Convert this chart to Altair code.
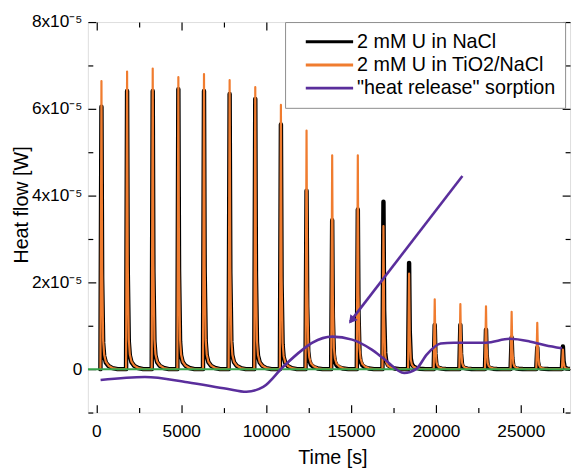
import altair as alt
import pandas as pd

# ---- data (heat flow in units of 1e-5 W) ----
peak_times = [300, 1810, 3320, 4830, 6340, 7850, 9360, 10870, 12380, 13890,
              15400, 16910, 18420, 19930, 21440, 22950, 24460, 25970, 27480]
nacl_peaks = [6.05, 6.41, 6.41, 6.45, 6.41, 6.34, 6.23, 5.64, 4.11, 3.43,
              3.68, 3.86, 2.45, 1.02, 1.02, 0.91, 0.73, 0.50, 0.52]
tio2_peaks = [6.64, 6.86, 6.93, 6.73, 6.80, 6.66, 6.50, 6.09, 5.50, 4.93,
              4.93, 3.30, 2.20, 1.61, 1.50, 1.45, 1.32, 1.07, 0.45]
# shape of a single injection spike: time offset [s] and fraction of its height
spike_dt = [-60, 0, 40, 100, 160, 260, 420, 650, 950]
spike_frac = [0.0, 1.0, 0.35, 0.10, 0.05, 0.025, 0.012, 0.004, 0.0]

sorption_t = [250, 2860, 5360, 7680, 8840, 9830, 10990, 12150, 12730, 13890,
              15060, 16220, 16970, 18130, 18830, 19470, 20280, 21040, 22950,
              24350, 25510, 26440, 27420]
sorption_v = [-0.25, -0.18, -0.30, -0.45, -0.52, -0.41, 0.05, 0.45, 0.61, 0.75,
              0.68, 0.45, 0.23, -0.09, 0.0, 0.34, 0.59, 0.61, 0.61,
              0.70, 0.64, 0.55, 0.48]

baseline_t = [-500, 27900]
baseline_v = [0.0, 0.0]

arrow_t = [21560, 14940]
arrow_v = [4.45, 1.09]
head_t = [15080]
head_v = [1.15]

x_ticks = [0, 2500, 5000, 7500, 10000, 12500, 15000, 17500, 20000, 22500, 25000, 27500]
y_ticks = [-1, 0, 1, 2, 3, 4, 5, 6, 7, 8]

names = ["2 mM U in NaCl", "2 mM U in TiO2/NaCl", "\"heat release\" sorption"]
colors = ["#000000", "#f07c2f", "#5a2e9c"]
GREEN = "#36a34a"
FONT = "Liberation Sans"


def spikes(heights, name):
    rows = []
    for t0, h in zip(peak_times, heights):
        for dt, f in zip(spike_dt, spike_frac):
            rows.append({"t": t0 + dt, "v": h * f, "series": name})
    return pd.DataFrame(rows)


df_black = spikes(nacl_peaks, names[0])
df_orange = spikes(tio2_peaks, names[1])
df_purple = pd.DataFrame({"t": sorption_t, "v": sorption_v, "series": names[2]})
df_base = pd.DataFrame({"t": baseline_t, "v": baseline_v})
df_arrow = pd.DataFrame({"t": arrow_t, "v": arrow_v})
df_head = pd.DataFrame({"t": head_t, "v": head_v})

xscale = alt.Scale(domain=[-500, 27900], nice=False, zero=False)
yscale = alt.Scale(domain=[-1, 8], nice=False, zero=False)
cscale = alt.Scale(domain=names, range=colors)

x_tick_size = alt.ExprRef("datum.value % 5000 === 0 ? -8 : -5")
y_tick_size = alt.ExprRef("datum.value % 2 === 0 ? -8 : -5")

x_bottom = alt.Axis(orient="bottom", values=x_ticks, format="d",
                    labelExpr="datum.value % 5000 === 0 ? datum.label : ''",
                    tickSize=x_tick_size, tickColor="black", tickWidth=1.2,
                    domain=False, grid=False, labelFontSize=17.5, labelFont=FONT,
                    labelColor="black", labelPadding=18, labelFlush=False,
                    labelOverlap=False, title="Time [s]", titleFontSize=20,
                    titleFont=FONT, titleFontWeight="normal", titleColor="black",
                    titleX=248, titleY=52, titleBaseline="alphabetic",
                    titleAlign="center")
y_left = alt.Axis(orient="left", values=y_ticks,
                  labelExpr="datum.value === 0 ? '0' : ((datum.value > 0 && datum.value % 2 === 0) ? datum.value + 'x10\u207b\u2075' : '')",
                  tickSize=y_tick_size, tickColor="black", tickWidth=1.2,
                  domain=False, grid=False, labelFontSize=17.5, labelFont=FONT,
                  labelColor="black", labelPadding=14, labelOverlap=False,
                  title="Heat flow [W]", titleFontSize=20, titleFont=FONT,
                  titleFontWeight="normal", titleColor="black",
                  titleX=-61, titleY=185, titleBaseline="alphabetic",
                  titleAlign="center", titleAngle=270)
x_top = alt.Axis(orient="top", values=x_ticks, labels=False, title=None,
                 tickSize=x_tick_size, tickColor="black", tickWidth=1.2,
                 domain=False, grid=False)
y_right = alt.Axis(orient="right", values=y_ticks, labels=False, title=None,
                   tickSize=y_tick_size, tickColor="black", tickWidth=1.2,
                   domain=False, grid=False)

legend = alt.Legend(orient="none", legendX=200, legendY=0, title=None,
                    symbolType="M-4,0H4", symbolSize=144, symbolStrokeWidth=3,
                    symbolOffset=25, labelOffset=18, labelFontSize=20,
                    labelFont=FONT, labelColor="black", labelLimit=400,
                    fillColor="white", strokeColor="#8c8c8c", padding=10,
                    rowPadding=3.5)

color = alt.Color("series:N", scale=cscale, legend=legend)

black = alt.Chart(df_black).mark_line(
    strokeWidth=4.5, strokeJoin="round", strokeCap="round", clip=True
).encode(x=alt.X("t:Q", scale=xscale, axis=x_bottom),
         y=alt.Y("v:Q", scale=yscale, axis=y_left),
         color=color, order="t:Q")

orange = alt.Chart(df_orange).mark_line(
    strokeWidth=2.2, strokeJoin="round", strokeCap="round", clip=True
).encode(x=alt.X("t:Q", scale=xscale, axis=x_top),
         y=alt.Y("v:Q", scale=yscale, axis=y_right),
         color=color, order="t:Q")

base = alt.Chart(df_base).mark_line(strokeWidth=2, clip=True).encode(
    x=alt.X("t:Q", scale=xscale, axis=None),
    y=alt.Y("v:Q", scale=yscale, axis=None),
    color=alt.value(GREEN))

purple = alt.Chart(df_purple).mark_line(
    strokeWidth=2.6, interpolate="monotone", clip=True
).encode(x=alt.X("t:Q", scale=xscale, axis=None),
         y=alt.Y("v:Q", scale=yscale, axis=None),
         color=color)

arrow = alt.Chart(df_arrow).mark_line(strokeWidth=2.6, clip=True).encode(
    x=alt.X("t:Q", scale=xscale, axis=None),
    y=alt.Y("v:Q", scale=yscale, axis=None),
    color=alt.value(colors[2]))

head = alt.Chart(df_head).mark_point(
    shape="triangle", filled=True, size=90, angle=218, opacity=1
).encode(x=alt.X("t:Q", scale=xscale, axis=None),
         y=alt.Y("v:Q", scale=yscale, axis=None),
         color=alt.value(colors[2]))

chart = alt.layer(black, orange, base, purple, arrow, head).resolve_axis(
    x="independent", y="independent"
).properties(
    width=489, height=396,
    autosize=alt.AutoSizeParams(type="none"),
    padding={"left": 81, "top": 11, "right": 3, "bottom": 54},
).configure_view(stroke="black", strokeWidth=1.5).configure(font=FONT)

chart.save("out.html", embed_options={"renderer": "svg", "actions": False})
